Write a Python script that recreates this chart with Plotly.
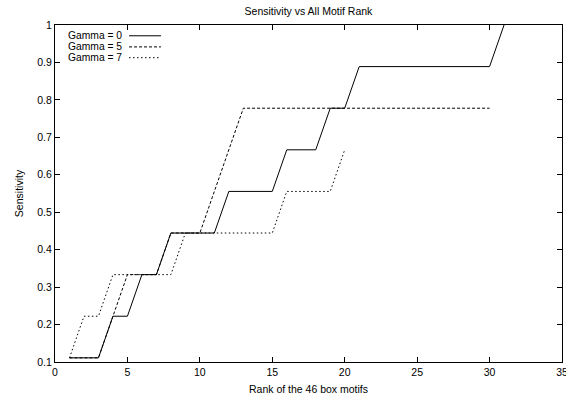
import plotly.graph_objects as go

# Data (ranks and sensitivity, multiples of 1/9)
rank_g0 = [1, 3, 4, 5, 6, 7, 8, 11, 12, 15, 16, 18, 19, 20, 21, 30, 31]
sens_g0 = [1/9, 1/9, 2/9, 2/9, 3/9, 3/9, 4/9, 4/9, 5/9, 5/9, 6/9, 6/9, 7/9, 7/9, 8/9, 8/9, 9/9]

rank_g5 = [1, 3, 4, 5, 7, 8, 10, 11, 12, 13, 30]
sens_g5 = [1/9, 1/9, 2/9, 3/9, 3/9, 4/9, 4/9, 5/9, 6/9, 7/9, 7/9]

rank_g7 = [1, 2, 3, 4, 8, 9, 15, 16, 19, 20]
sens_g7 = [1/9, 2/9, 2/9, 3/9, 3/9, 4/9, 4/9, 5/9, 5/9, 6/9]

series_names = ["Gamma = 0", "Gamma = 5", "Gamma = 7"]
dash_styles = ["solid", "3px,2px", "1.5px,2.5px"]

x_ticks = [0, 5, 10, 15, 20, 25, 30, 35]
y_ticks = [0.1, 0.2, 0.3, 0.4, 0.5, 0.6, 0.7, 0.8, 0.9, 1.0]
y_tick_text = ["0.1", "0.2", "0.3", "0.4", "0.5", "0.6", "0.7", "0.8", "0.9", "1"]

FONT = "Liberation Sans, Arial, Helvetica, sans-serif"

fig = go.Figure()
for xs, ys, name, dash in zip([rank_g0, rank_g5, rank_g7],
                              [sens_g0, sens_g5, sens_g7],
                              series_names, dash_styles):
    fig.add_trace(go.Scatter(x=xs, y=ys, mode="lines", name=name,
                             line=dict(color="black", width=1, dash=dash),
                             showlegend=False, hoverinfo="skip"))

# gnuplot-style legend (text right-aligned, sample to the right)
legend_rows_y = [0.968, 0.935, 0.903]
for name, dash, yy in zip(series_names, dash_styles, legend_rows_y):
    fig.add_annotation(xref="paper", yref="paper", x=0.135, y=yy,
                       text=name, showarrow=False, xanchor="right",
                       yanchor="middle", borderpad=0,
                       font=dict(size=10.3, color="black", family=FONT))
    fig.add_shape(type="line", xref="paper", yref="paper",
                  x0=0.146, x1=0.209, y0=yy, y1=yy,
                  line=dict(color="black", width=1, dash=dash))

fig.update_layout(
    width=566, height=398, autosize=False,
    margin=dict(l=55, r=4, t=25, b=36, autoexpand=False),
    paper_bgcolor="white", plot_bgcolor="white",
    font=dict(family=FONT, size=10.5, color="black"),
    title=dict(text="Sensitivity vs All Motif Rank", x=0.545, xanchor="center",
               y=0.972, yanchor="middle", yref="container", font=dict(size=10.5)),
)
fig.update_xaxes(range=[0, 35], tickvals=x_ticks, ticks="inside", ticklen=5,
                 tickcolor="black", showline=True, linecolor="black", linewidth=1,
                 mirror="ticks", showgrid=False, zeroline=False, automargin=False,
                 ticklabeloverflow="allow",
                 title=dict(text="Rank of the 46 box motifs", standoff=9,
                            font=dict(size=10.5)))
fig.update_yaxes(range=[0.1, 1.0], tickvals=y_ticks, ticktext=y_tick_text,
                 ticks="inside", ticklen=5, tickcolor="black", showline=True,
                 linecolor="black", linewidth=1, mirror="ticks", showgrid=False,
                 zeroline=False, automargin=False, ticklabeloverflow="allow",
                 title=dict(text="Sensitivity", standoff=11, font=dict(size=10.5)))

fig.write_html("out.html", config={"responsive": False, "displayModeBar": False},
               post_script="document.body.style.margin='0';document.body.style.overflow='hidden';")
